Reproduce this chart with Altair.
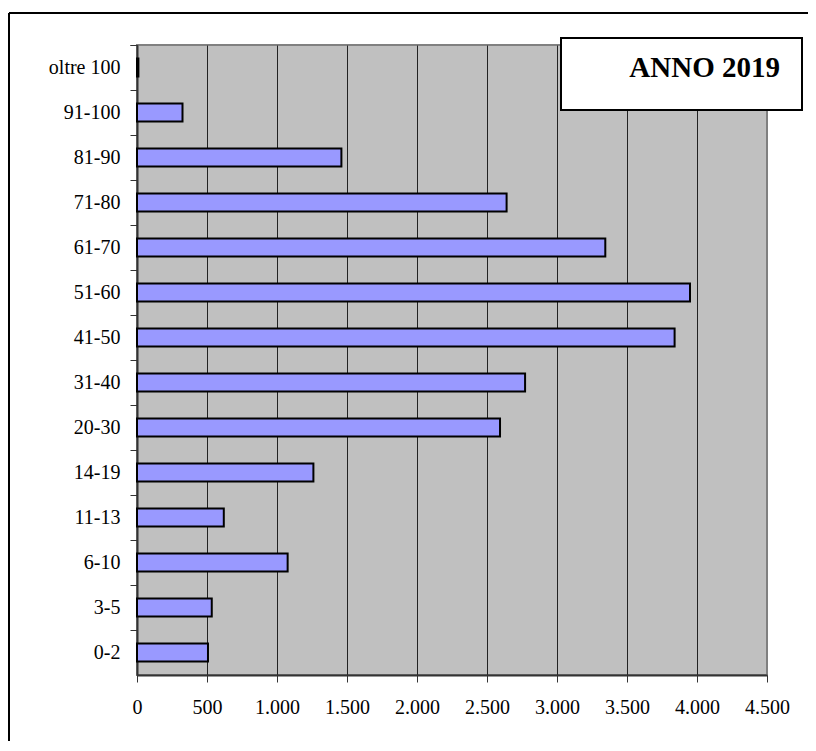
import altair as alt
import pandas as pd

categories = ["oltre 100", "91-100", "81-90", "71-80", "61-70", "51-60", "41-50",
              "31-40", "20-30", "14-19", "11-13", "6-10", "3-5", "0-2"]
values = [10, 325, 1460, 2640, 3345, 3950, 3840, 2772, 2593, 1260, 620, 1076, 534, 507]
x_ticks = [0, 500, 1000, 1500, 2000, 2500, 3000, 3500, 4000, 4500]
box_text = "ANNO 2019"

df = pd.DataFrame({"fascia": categories, "valore": values})
one = pd.DataFrame({"k": [0]})

FONT = "Liberation Serif"
AX = "#333333"

bars = alt.Chart(df).mark_bar(
    color="#9999ff", stroke="#000000", strokeWidth=2,
    height=alt.RelativeBandSize(0.4)
).encode(
    x=alt.X("valore:Q",
            scale=alt.Scale(domain=[0, 4500], nice=False),
            axis=alt.Axis(values=x_ticks, title=None,
                          labelExpr="replace(format(datum.value, ','), ',', '.')",
                          grid=True,
                          gridColor={"condition": {"test": "datum.value >= 4500", "value": "#808080"},
                                     "value": "#222222"},
                          gridWidth=1,
                          tickSize=7, tickColor=AX, tickWidth=1,
                          domainColor=AX, domainWidth=2,
                          labelFont=FONT, labelFontSize=20, labelColor="#000000",
                          labelPadding=31, labelBaseline="alphabetic",
                          labelFlush=False, labelOverlap=False)),
    y=alt.Y("fascia:N", sort=categories,
            scale=alt.Scale(paddingInner=0, paddingOuter=0),
            axis=alt.Axis(title=None, bandPosition=0, tickExtra=True,
                          tickSize=7, tickColor=AX, tickWidth=1,
                          domainColor=AX, domainWidth=2,
                          labelFont=FONT, labelFontSize=20, labelColor="#000000",
                          labelPadding=10, grid=False))
)

frame_top = alt.Chart(one).mark_rule(color="#000000", strokeWidth=2).encode(
    x=alt.value(-128), x2=alt.value(671), y=alt.value(-32))
frame_left = alt.Chart(one).mark_rule(color="#000000", strokeWidth=2).encode(
    x=alt.value(-128), y=alt.value(-32), y2=alt.value(720))

box = alt.Chart(one).mark_rect(fill="#ffffff", stroke="#000000", strokeWidth=2).encode(
    x=alt.value(424), x2=alt.value(665), y=alt.value(-7), y2=alt.value(65))
label = alt.Chart(one).mark_text(
    text=box_text, font=FONT, fontSize=29, fontWeight="bold",
    align="right", baseline="alphabetic", color="#000000"
).encode(x=alt.value(643), y=alt.value(32))

chart = alt.layer(bars, frame_top, frame_left, box, label).properties(
    width=630, height=630,
    padding={"left": 129, "top": 37, "right": 41, "bottom": 66},
    autosize=alt.AutoSizeParams(type="none"),
    background="#ffffff",
).configure_view(
    fill="#c0c0c0", stroke="#808080", strokeWidth=2
)

chart.save("out.html", embed_options={"renderer": "svg", "actions": False})
